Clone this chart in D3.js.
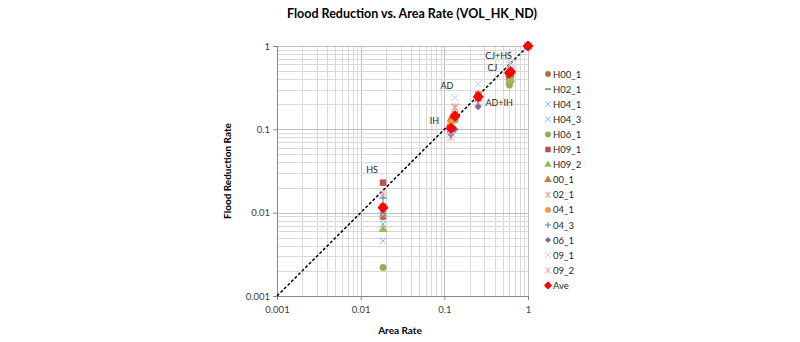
<!DOCTYPE html>
<html><head><meta charset="utf-8">
<script src="https://cdn.jsdelivr.net/npm/d3@7"></script>
<style>body{margin:0;background:#fff}svg{display:block}text{font-family:Lato,"Open Sans",sans-serif}</style>
</head><body><svg id="c" width="800" height="342"></svg>
<script>
// ---- data ----
const categories = ["HS","IH","AD","AD+IH","CJ","CJ+HS","ALL"];
const areaRate   = [0.0185, 0.12, 0.134, 0.254, 0.6, 0.62, 1];
const seriesNames = ["H00_1","H02_1","H04_1","H04_3","H06_1","H09_1","H09_2","00_1","02_1","04_1","04_3","06_1","09_1","09_2","Ave"];
const H00_1 = [0.0089, 0.105, 0.14, 0.24, 0.44, 0.46, 1];
const H02_1 = [0.0126, 0.10, 0.145, 0.25, 0.45, 0.48, 1];
const H04_1 = [0.0046, 0.10, 0.13, 0.23, 0.50, 0.50, 1];
const H04_3 = [0.0073, 0.095, 0.14, 0.24, 0.48, 0.50, 1];
const H06_1 = [0.0022, 0.10, 0.13, 0.24, 0.34, 0.38, 1];
const H09_1 = [0.0229, 0.11, 0.15, 0.26, 0.42, 0.45, 1];
const H09_2 = [0.0063, 0.10, 0.14, 0.25, 0.38, 0.40, 1];
const S00_1 = [0.012, 0.133, 0.15, 0.26, 0.46, 0.48, 1];
const S02_1 = [0.016, 0.08, 0.187, 0.21, 0.50, 0.52, 1];
const S04_1 = [0.011, 0.12, 0.15, 0.25, 0.47, 0.50, 1];
const S04_3 = [0.015, 0.096, 0.10, 0.22, 0.50, 0.52, 1];
const S06_1 = [0.010, 0.087, 0.10, 0.187, 0.45, 0.47, 1];
const S09_1 = [0.0095, 0.095, 0.24, 0.35, 0.60, 0.62, 1];
const S09_2 = [0.017, 0.09, 0.18, 0.23, 0.50, 0.52, 1];
const Ave   = [0.0115, 0.103, 0.144, 0.246, 0.474, 0.49, 1];
const seriesValues = [H00_1,H02_1,H04_1,H04_3,H06_1,H09_1,H09_2,S00_1,S02_1,S04_1,S04_3,S06_1,S09_1,S09_2,Ave];
const tickValues = [0.001, 0.01, 0.1, 1];
const tickLabels = ["0.001","0.01","0.1","1"];
const pointLabels = ["HS","IH","AD","AD+IH","CJ","CJ+HS"];

// ---- styles ----
const styles = [
 {m:"circle", c:"#b07040"},
 {m:"dash", c:"#6f8a3a"},
 {m:"x", c:"#8eb4e3"},
 {m:"x", c:"#8eb4e3"},
 {m:"circle", c:"#8fb050"},
 {m:"square", c:"#c0504d"},
 {m:"triangle", c:"#9bbb59"},
 {m:"triangle", c:"#d07a30"},
 {m:"star", c:"#e09a98"},
 {m:"circle", c:"#f79646"},
 {m:"plus", c:"#4f81bd"},
 {m:"diamond", c:"#8064a2"},
 {m:"x", c:"#b9cde5"},
 {m:"star", c:"#e6a8a6"},
 {m:"diamond", c:"#ff0000", big:true}
];
const labelOffsets = [[-11,-35],[-16.5,-4.5],[-8,-27],[21,9.5],[-17,-2],[-12,-12.6]];

const svg = d3.select("#c");
const L=277, R=528, T=46, B=296;
const x = d3.scaleLog().domain([0.001,1]).range([L,R]);
const y = d3.scaleLog().domain([0.001,1]).range([B,T]);

// gridlines (major + minor)
const gridVals = [];
for (let e=-3;e<0;e++) for (let k=1;k<=9;k++) gridVals.push(k*Math.pow(10,e));
gridVals.push(1);
const g = svg.append("g");
const isMajor = d=>[0.001,0.01,0.1,1].some(t=>Math.abs(t-d)<1e-9);
g.selectAll(".gx").data(gridVals).join("line")
 .attr("x1",d=>Math.round(x(d))+0.5).attr("x2",d=>Math.round(x(d))+0.5).attr("y1",T).attr("y2",B)
 .attr("stroke",d=>isMajor(d)?"#bfbfbf":"#d9d9d9").attr("stroke-width",1);
g.selectAll(".gy").data(gridVals).join("line")
 .attr("y1",d=>Math.round(y(d))+0.5).attr("y2",d=>Math.round(y(d))+0.5).attr("x1",L).attr("x2",R)
 .attr("stroke",d=>isMajor(d)?"#bfbfbf":"#d9d9d9").attr("stroke-width",1);

// axes
const xAxis = d3.axisBottom(x).tickValues(tickValues).tickFormat((d,i)=>tickLabels[i]).tickSize(4).tickPadding(6);
const yAxis = d3.axisLeft(y).tickValues(tickValues).tickFormat((d,i)=>tickLabels[i]).tickSize(4).tickPadding(3);
const gx = svg.append("g").attr("transform",`translate(0,${B})`).call(xAxis);
const gy = svg.append("g").attr("transform",`translate(${L},0)`).call(yAxis);
[gx,gy].forEach(a=>{
  a.select(".domain").attr("stroke","#868686");
  a.selectAll(".tick line").attr("stroke","#868686");
  a.selectAll(".tick text").attr("fill","#404040").attr("font-size","9.5px").attr("font-family","Lato,sans-serif");
});

// diagonal
svg.append("line").attr("x1",x(0.001)).attr("y1",y(0.001)).attr("x2",x(1)).attr("y2",y(1))
 .attr("stroke","#000").attr("stroke-width",1.5).attr("stroke-dasharray","3,2");

// marker generator
function markerPath(m, s){
  const h=s/2;
  switch(m){
    case "circle": return d3.symbol(d3.symbolCircle, s*s*0.75)();
    case "square": return d3.symbol(d3.symbolSquare, s*s*0.85)();
    case "triangle": return d3.symbol(d3.symbolTriangle, s*s*0.7)();
    case "diamond": return `M0,${-h}L${h},0L0,${h}L${-h},0Z`;
    case "x": return `M${-h},${-h}L${h},${h}M${-h},${h}L${h},${-h}`;
    case "plus": return `M${-h},0L${h},0M0,${-h}L0,${h}`;
    case "dash": return `M${-h},0L${h},0`;
    case "star": return `M${-h},${-h}L${h},${h}M${-h},${h}L${h},${-h}M0,${-h}L0,${h}`;
  }
}
function drawMarker(sel, st, size){
  const filled = ["circle","square","triangle","diamond"].includes(st.m);
  const p = sel.append("path").attr("d",markerPath(st.m,size))
    .attr("fill",filled?st.c:"none").attr("stroke",filled?"none":st.c).attr("stroke-width",st.m==="dash"?1.5:1);
  if (st.big) p.attr("stroke",st.c).attr("stroke-width",1.5).attr("stroke-linejoin","round");
}

// points
seriesValues.forEach((vals,si)=>{
  const st = styles[si];
  const sg = svg.append("g");
  vals.forEach((v,ci)=>{
    if (v==null) return;
    const p = sg.append("g").attr("transform",`translate(${x(areaRate[ci])},${y(v)})`);
    drawMarker(p, st, st.big?9:7);
  });
});

// point labels
pointLabels.forEach((lab,i)=>{
  const v = Ave[i];
  svg.append("text").attr("x",x(areaRate[i])+labelOffsets[i][0]).attr("y",y(v)+labelOffsets[i][1])
   .attr("text-anchor","middle").attr("font-size","9px").attr("fill","#262626").text(lab);
});

// legend
const lg = svg.append("g");
seriesNames.forEach((n,i)=>{
  const yy = 74 + i*15.1;
  const r = lg.append("g").attr("transform",`translate(548,${yy})`);
  drawMarker(r, styles[i], styles[i].big?6:6);
  lg.append("text").attr("x",553).attr("y",yy+3.5).attr("font-size","9.5px").attr("fill","#262626").text(n);
});

// titles
svg.append("text").attr("x",412).attr("y",18).attr("text-anchor","middle")
 .attr("font-size","12.5px").attr("font-weight","bold").attr("fill","#000").text("Flood Reduction vs. Area Rate (VOL_HK_ND)");
svg.append("text").attr("x",400).attr("y",334).attr("text-anchor","middle")
 .attr("font-size","10px").attr("font-weight","bold").attr("fill","#000").text("Area Rate");
svg.append("text").attr("transform","translate(231,171) rotate(-90)").attr("text-anchor","middle")
 .attr("font-size","10px").attr("font-weight","bold").attr("fill","#000").text("Flood Reduction Rate");
</script></body></html>
